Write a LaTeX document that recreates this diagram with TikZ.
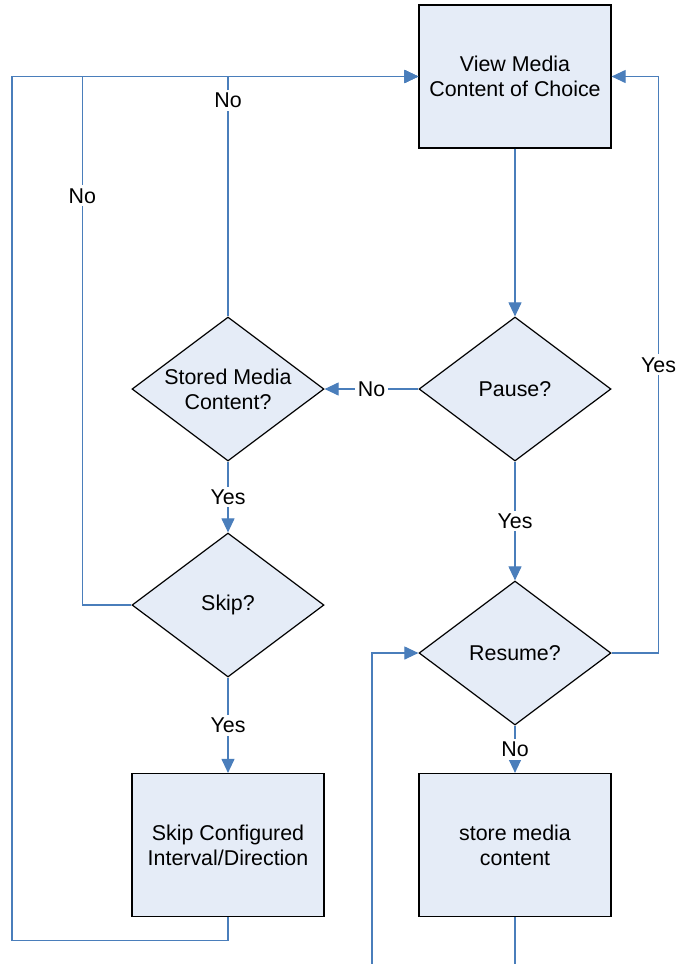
\documentclass[tikz,border=0pt]{standalone}
\usepackage{fontspec}
\setmainfont{Liberation Sans}
\usetikzlibrary{arrows.meta,shapes.geometric}
\definecolor{flowblue}{RGB}{74,126,187}
\definecolor{flowfill}{RGB}{229,236,247}
\tikzset{
	procbox/.style={draw=black, fill=flowfill, line width=0.6pt, minimum width=96pt, minimum height=71.5pt, inner sep=0pt, align=center},
	decision/.style={draw=black, fill=flowfill, line width=0.6pt, diamond, minimum width=96pt, minimum height=72pt, inner sep=0pt},
	flow/.style={draw=flowblue, line width=0.55pt, -{Triangle[length=7pt,width=6.5pt]}},
	plain/.style={draw=flowblue, line width=0.55pt},
	lab/.style={fill=white, inner sep=1.5pt}
}

\begin{document}
\begin{tikzpicture}[x=0.5pt, y=-0.5pt, font=\fontsize{10.7}{12.5}\selectfont]
		%%%%% START %%%%%
		\useasboundingbox (0,0) rectangle (676,964);
		
		\node[procbox] (view) at (515,76.5) {View Media\\Content of Choice};
		\node[decision, label={[align=center]center:Pause?}] (pause) at (515,389) {};
		\node[decision, label={[align=center]center:Stored Media\\Content?}] (stored) at (228,389) {};
		\node[decision, label={[align=center]center:Skip?}] (skip) at (228,605) {};
		\node[decision, label={[align=center]center:Resume?}] (resume) at (515,653) {};
		\node[procbox] (skipcfg) at (228,845) {Skip Configured\\Interval/Direction};
		\node[procbox] (store) at (515,845) {store media\\content};
		
		\coordinate (storeout) at (515,964);
		\coordinate (resumein) at (372,964);
		
		% right column
		\draw[flow] (view) -- (pause);
		\draw[flow] (pause) -- node[lab] {No} (stored);
		\draw[flow] (pause) -- node[lab] {Yes} (resume);
		\draw[flow] (resume.east) -- ++(47,0) |- node[lab, pos=0.25] {Yes} (view.east);
		\draw[flow] (resume) -- node[lab] {No} (store);
		\draw[plain] (store) -- (storeout);
		\draw[flow] (resumein) |- (resume.west);
		
		% left column
		\draw[flow] (stored) -- node[lab] {Yes} (skip);
		\draw[flow] (skip) -- node[lab] {Yes} (skipcfg);
		\draw[flow] (stored.north) |- node[lab, pos=0.45] {No} (view.west);
		\draw[flow] (skip.west) -- ++(-49,0) |- node[lab, pos=0.387] {No} (view.west);
		\draw[flow] (skipcfg.south) -- ++(0,23) -- ++(-216,0) |- (view.west);
		
		%%%%% END %%%%%
\end{tikzpicture}
\end{document}
